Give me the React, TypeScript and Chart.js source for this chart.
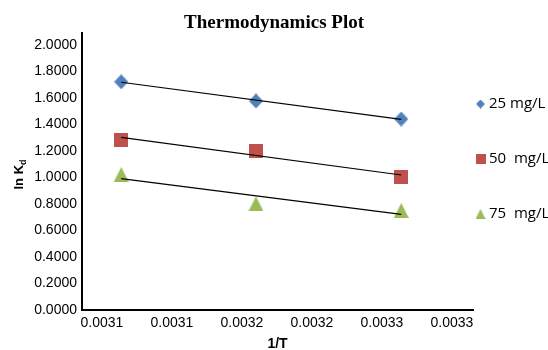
import React, { useEffect, useRef } from "react";
import { Chart, registerables } from "chart.js";

Chart.register(...registerables);

// ---- data ----
const xValues = [0.003111, 0.003188, 0.003271];
const series25 = [1.722, 1.577, 1.441];
const series50 = [1.283, 1.202, 1.001];
const series75 = [1.022, 0.801, 0.751];
const seriesNames = ["25 mg/L", "50  mg/L", "75  mg/L"];
const seriesColors = ["#4F81BD", "#C0504D", "#9BBB59"];
const seriesShapes = ["diamond", "square", "triangle"];

const xTickValues = [0.0031, 0.00314, 0.00318, 0.00322, 0.00326, 0.0033];
const xTickLabels = ["0.0031", "0.0031", "0.0032", "0.0032", "0.0033", "0.0033"];
const yTickValues = [0, 0.2, 0.4, 0.6, 0.8, 1.0, 1.2, 1.4, 1.6, 1.8, 2.0];
const yTickLabels = ["0.0000", "0.2000", "0.4000", "0.6000", "0.8000", "1.0000", "1.2000", "1.4000", "1.6000", "1.8000", "2.0000"];

const xMin = 0.0030886;
const xMax = 0.003312;
const yMin = 0;
const yMax = 2.09;

const chartTitle = "Thermodynamics Plot";
const xTitle = "1/T";
const yTitleMain = "ln K";
const yTitleSub = "d";

// least-squares trend line (like Excel's linear trendline)
function trend(xs: number[], ys: number[]) {
  const n = xs.length;
  const mx = xs.reduce((a, b) => a + b, 0) / n;
  const my = ys.reduce((a, b) => a + b, 0) / n;
  let sxy = 0, sxx = 0;
  for (let i = 0; i < n; i++) {
    sxy += (xs[i] - mx) * (ys[i] - my);
    sxx += (xs[i] - mx) * (xs[i] - mx);
  }
  const b = sxy / sxx;
  const a = my - b * mx;
  const x0 = xs[0], x1 = xs[n - 1];
  return [{ x: x0, y: a + b * x0 }, { x: x1, y: a + b * x1 }];
}

function makeMarker(shape: string, w: number, h: number, color: string) {
  const c = document.createElement("canvas");
  c.width = w;
  c.height = h;
  const ctx = c.getContext("2d")!;
  ctx.fillStyle = color;
  ctx.beginPath();
  if (shape === "diamond") {
    ctx.moveTo(w / 2, 0);
    ctx.lineTo(w, h / 2);
    ctx.lineTo(w / 2, h);
    ctx.lineTo(0, h / 2);
  } else if (shape === "square") {
    ctx.rect(0, 0, w, h);
  } else {
    ctx.moveTo(w / 2, 0);
    ctx.lineTo(w, h);
    ctx.lineTo(0, h);
  }
  ctx.closePath();
  ctx.fill();
  return c;
}

export default function App() {
  const ref = useRef<HTMLCanvasElement | null>(null);

  useEffect(() => {
    if (!ref.current) return;
    const allSeries = [series25, series50, series75];
    const plotSizes = [[14, 15], [14, 14], [15, 15]];
    const legendSizes = [[9, 9], [10, 10], [10, 10]];
    const plotMarkers = allSeries.map((_, i) =>
      makeMarker(seriesShapes[i], plotSizes[i][0], plotSizes[i][1], seriesColors[i])
    );
    const legendMarkers = allSeries.map((_, i) =>
      makeMarker(seriesShapes[i], legendSizes[i][0], legendSizes[i][1], seriesColors[i])
    );

    const scatterSets = allSeries.map((ys, i) => ({
      type: "scatter" as const,
      label: seriesNames[i],
      data: xValues.map((x, j) => ({ x, y: ys[j] })),
      backgroundColor: seriesColors[i],
      borderColor: seriesColors[i],
      pointStyle: plotMarkers[i] as any,
      pointRadius: 7,
      order: 1,
    }));
    const trendSets = allSeries.map((ys) => ({
      type: "line" as const,
      label: "trend",
      data: trend(xValues, ys),
      borderColor: "#000000",
      borderWidth: 1.2,
      pointRadius: 0,
      fill: false,
      order: 0,
    }));

    const legendPlace = {
      id: "legendPlace",
      afterLayout(chart: any) {
        const lg = chart.legend;
        if (!lg) return;
        lg.left = 439.5;
        lg.right = 548;
        lg.width = 548 - 439.5;
        lg.top = 56.5;
        lg.bottom = 350;
        lg.height = 350 - 56.5;
      },
    };

    const yTitlePlugin = {
      id: "yTitlePlugin",
      afterDraw(chart: any) {
        const ctx = chart.ctx as CanvasRenderingContext2D;
        const area = chart.chartArea;
        const cy = (area.top + area.bottom) / 2 + 3;
        ctx.save();
        ctx.fillStyle = "#000";
        ctx.textBaseline = "alphabetic";
        ctx.textAlign = "left";
        const mainFont = "bold 13px 'Liberation Sans'";
        const subFont = "bold 9px 'Liberation Sans'";
        ctx.font = mainFont;
        const w1 = ctx.measureText(yTitleMain).width;
        ctx.font = subFont;
        const w2 = ctx.measureText(yTitleSub).width;
        const total = w1 + w2;
        ctx.translate(23, cy);
        ctx.rotate(-Math.PI / 2);
        ctx.font = mainFont;
        ctx.fillText(yTitleMain, -total / 2, 0);
        ctx.font = subFont;
        ctx.fillText(yTitleSub, -total / 2 + w1, 3);
        ctx.restore();
      },
    };

    Chart.defaults.font.family = "'Liberation Sans', Arial, sans-serif";

    const chart = new Chart(ref.current, {
      type: "scatter",
      data: { datasets: [...scatterSets, ...trendSets] as any },
      options: {
        animation: false,
        responsive: false,
        maintainAspectRatio: false,
        layout: { padding: 0 },
        plugins: {
          tooltip: { enabled: false },
          title: {
            display: true,
            text: chartTitle,
            color: "#000",
            font: { family: "'Liberation Serif', 'Times New Roman', serif", size: 19, weight: "bold", lineHeight: 1 },
            padding: { top: 14, bottom: 0 },
          },
          legend: {
            display: true,
            position: "right",
            align: "start",
            maxWidth: 75,
            labels: {
              usePointStyle: true,
              boxWidth: 2,
              padding: 40,
              color: "#000",
              font: { family: "'Open Sans', 'Liberation Sans', sans-serif", size: 15 },
              filter: (item: any) => item.text !== "trend",
              generateLabels: (chart: any) => {
                const base = Chart.defaults.plugins.legend.labels.generateLabels(chart);
                return base.map((it: any) => {
                  const idx = seriesNames.indexOf(it.text);
                  if (idx >= 0) it.pointStyle = legendMarkers[idx];
                  return it;
                });
              },
            },
          },
        },
        scales: {
          x: {
            type: "linear",
            position: "bottom",
            min: xMin,
            max: xMax,
            grid: { display: false, drawTicks: false },
            border: { display: true, color: "#000", width: 2 },
            afterBuildTicks: (scale: any) => {
              scale.ticks = xTickValues.map((v) => ({ value: v }));
            },
            afterFit: (scale: any) => {
              scale.height = 40;
            },
            ticks: {
              color: "#000",
              padding: 5,
              font: { size: 14 },
              maxRotation: 0,
              autoSkip: false,
              callback: (_v: any, i: number) => xTickLabels[i],
            },
            title: {
              display: true,
              text: xTitle,
              color: "#000",
              font: { size: 14, weight: "bold", lineHeight: 0.857 },
              padding: { top: 0, bottom: 0 },
            },
          },
          y: {
            type: "linear",
            min: yMin,
            max: yMax,
            grid: { display: false, drawTicks: false },
            border: { display: true, color: "#000", width: 2 },
            afterBuildTicks: (scale: any) => {
              scale.ticks = yTickValues.map((v) => ({ value: v }));
            },
            afterFit: (scale: any) => {
              scale.width = 82;
            },
            ticks: {
              color: "#000",
              padding: 5,
              font: { size: 14 },
              autoSkip: false,
              callback: (_v: any, i: number) => yTickLabels[i],
            },
          },
        },
      },
      plugins: [legendPlace, yTitlePlugin],
    });

    return () => chart.destroy();
  }, []);

  return (
    <div style={{ position: "fixed", left: 0, top: 0, width: 548, height: 350, background: "#fff" }}>
      <canvas ref={ref} width={548} height={350} style={{ display: "block", width: 548, height: 350 }} />
    </div>
  );
}
